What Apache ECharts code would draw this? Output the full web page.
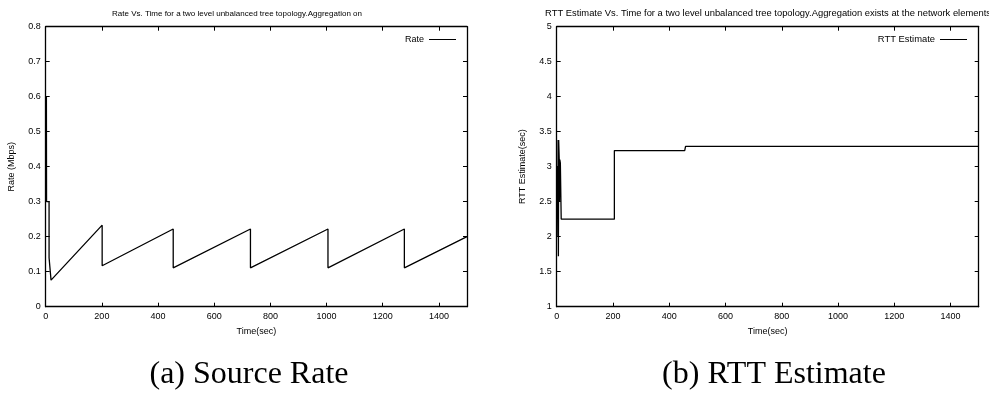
<!DOCTYPE html>
<html>
<head>
<meta charset="utf-8">
<script src="https://cdn.jsdelivr.net/npm/echarts@6/dist/echarts.min.js"></script>
<style>
  html, body { margin: 0; padding: 0; background: #fff; }
  #chart { width: 989px; height: 394px; }
</style>
</head>
<body>
<div id="chart"></div>
<script>
// Source rate (Mbps) over time (sec): [time, rate]
const rateTime = [0, 0.5, 1, 1.5, 2, 2.5, 3, 12, 12, 19, 19, 21, 201, 201, 454, 454, 729, 729, 1005, 1005, 1277, 1277, 1500];
const rateValue = [0.3, 0.6, 0.3, 0.6, 0.3, 0.6, 0.3, 0.3, 0.14, 0.14, 0.076, 0.074, 0.233, 0.117, 0.222, 0.111, 0.222, 0.111, 0.222, 0.111, 0.222, 0.111, 0.2];

// RTT estimate (sec) over time (sec)
const rttTime = [2, 4, 5, 6, 7, 9, 10, 11, 13, 16, 16, 205, 205, 455, 458, 733, 734, 735, 1005, 1006, 1007, 1280, 1281, 1282, 1500];
const rttValue = [3.0, 2.0, 3.38, 1.72, 3.38, 3.1, 2.5, 3.1, 3.05, 3.05, 2.25, 2.25, 3.23, 3.23, 3.29, 3.29, 3.27, 3.29, 3.29, 3.27, 3.29, 3.29, 3.27, 3.29, 3.29];

const timeTicks = { min: 0, max: 1500, interval: 200 };
const rateAxis = { min: 0, max: 0.8, interval: 0.1 };
const rttAxis = { min: 1, max: 5, interval: 0.5 };

const titles = [
  'Rate Vs. Time for a two level unbalanced tree topology.Aggregation on',
  'RTT Estimate Vs. Time for a two level unbalanced tree topology.Aggregation exists at the network elements'
];
const captions = ['(a) Source Rate', '(b) RTT Estimate'];

const sansFont = '"Liberation Sans", Arial, sans-serif';
const serifFont = '"Liberation Serif", "Times New Roman", serif';
const ink = '#000';

const zip = (xs, ys) => xs.map((x, i) => [x, ys[i]]);
const plain = v => String(+v.toFixed(2));

function xAxisFor(gridIndex, position, showLabel) {
  return {
    type: 'value', gridIndex, position,
    min: timeTicks.min, max: timeTicks.max, interval: timeTicks.interval,
    name: showLabel ? 'Time(sec)' : '',
    nameLocation: 'middle', nameGap: 20,
    nameTextStyle: { fontFamily: sansFont, fontSize: 9, color: ink },
    axisLine: { show: true, onZero: false, lineStyle: { color: ink, width: 1.3 } },
    axisTick: { show: true, inside: true, length: 4, lineStyle: { color: ink } },
    axisLabel: { show: showLabel, fontFamily: sansFont, fontSize: 9, color: ink, margin: 5,
      showMaxLabel: false, formatter: plain },
    splitLine: { show: false }
  };
}

function yAxisFor(gridIndex, position, spec, name, showLabel, nameGap) {
  return {
    type: 'value', gridIndex, position,
    min: spec.min, max: spec.max, interval: spec.interval,
    name: showLabel ? name : '',
    nameLocation: 'middle', nameGap, nameRotate: 90,
    nameTextStyle: { fontFamily: sansFont, fontSize: 9, color: ink },
    axisLine: { show: true, onZero: false, lineStyle: { color: ink, width: 1.3 } },
    axisTick: { show: true, inside: true, length: 4, lineStyle: { color: ink } },
    axisLabel: { show: showLabel, fontFamily: sansFont, fontSize: 9, color: ink, margin: 5,
      formatter: plain },
    splitLine: { show: false }
  };
}

const chart = echarts.init(document.getElementById('chart'), null, { renderer: 'canvas' });

chart.setOption({
  backgroundColor: '#fff',
  animation: false,
  title: [
    { text: titles[0], left: 232, top: 5, textAlign: 'center',
      textStyle: { fontFamily: sansFont, fontSize: 8, fontWeight: 'normal', color: ink } },
    { text: titles[1], left: 763, top: 4, textAlign: 'center',
      textStyle: { fontFamily: sansFont, fontSize: 9.4, fontWeight: 'normal', color: ink } },
    { text: captions[0], left: 244, top: 354, textAlign: 'center',
      textStyle: { fontFamily: serifFont, fontSize: 32, fontWeight: 'normal', color: ink } },
    { text: captions[1], left: 769, top: 354, textAlign: 'center',
      textStyle: { fontFamily: serifFont, fontSize: 32, fontWeight: 'normal', color: ink } }
  ],
  legend: [
    { data: ['Rate'], right: 989 - 461, top: 30, align: 'right', orient: 'vertical',
      icon: 'rect', itemWidth: 27, itemHeight: 1, itemGap: 0,
      textStyle: { fontFamily: sansFont, fontSize: 9, color: ink } },
    { data: ['RTT Estimate'], right: 989 - 972, top: 30, align: 'right', orient: 'vertical',
      icon: 'rect', itemWidth: 27, itemHeight: 1, itemGap: 0,
      textStyle: { fontFamily: sansFont, fontSize: 9.4, color: ink } }
  ],
  grid: [
    { left: 45.7, top: 26.7, width: 421.3, height: 280 },
    { left: 556.7, top: 26.7, width: 422, height: 280 }
  ],
  xAxis: [
    xAxisFor(0, 'bottom', true),
    xAxisFor(0, 'top', false),
    xAxisFor(1, 'bottom', true),
    xAxisFor(1, 'top', false)
  ],
  yAxis: [
    yAxisFor(0, 'left', rateAxis, 'Rate (Mbps)', true, 30),
    yAxisFor(0, 'right', rateAxis, '', false, 0),
    yAxisFor(1, 'left', rttAxis, 'RTT Estimate(sec)', true, 30),
    yAxisFor(1, 'right', rttAxis, '', false, 0)
  ],
  series: [
    { name: 'Rate', type: 'line', xAxisIndex: 0, yAxisIndex: 0,
      data: zip(rateTime, rateValue), showSymbol: false, symbol: 'none',
      lineStyle: { color: ink, width: 1.3 }, itemStyle: { color: ink } },
    { name: 'RTT Estimate', type: 'line', xAxisIndex: 2, yAxisIndex: 2,
      data: zip(rttTime, rttValue), showSymbol: false, symbol: 'none',
      lineStyle: { color: ink, width: 1.3 }, itemStyle: { color: ink } }
  ]
});
</script>
</body>
</html>
